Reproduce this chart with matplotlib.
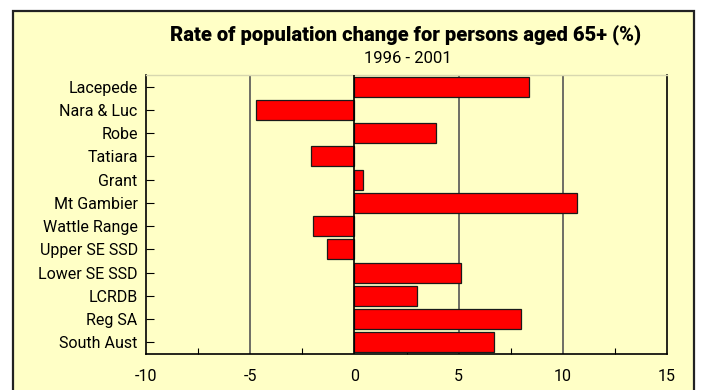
import matplotlib
matplotlib.use("Agg")
import matplotlib.pyplot as plt
from matplotlib.patches import Rectangle
from matplotlib.ticker import MultipleLocator

regions = ["Lacepede", "Nara & Luc", "Robe", "Tatiara", "Grant", "Mt Gambier",
           "Wattle Range", "Upper SE SSD", "Lower SE SSD", "LCRDB", "Reg SA",
           "South Aust"]
change = [8.4, -4.7, 3.9, -2.1, 0.4, 10.7, -2.0, -1.3, 5.1, 3.0, 8.0, 6.7]
xticks = [-10, -5, 0, 5, 10, 15]

bg = "#ffffc6"
plt.rcParams['font.family'] = ['Roboto', 'DejaVu Sans']

fig = plt.figure(figsize=(7.01, 3.90), dpi=100)
fig.patch.set_facecolor("white")

# yellow panel with a dark border; it runs off the bottom edge
frame = Rectangle((0.0185, -0.05), 0.972, 1.022, transform=fig.transFigure,
                  facecolor=bg, edgecolor="#222222", linewidth=1.6, zorder=-5)
fig.patches.append(frame)

ax = fig.add_axes([0.2083, 0.0923, 0.7432, 0.7154], zorder=2)
ax.set_facecolor(bg)

ypos = list(range(len(regions)))
ax.barh(ypos, change, height=0.85, color="#ff0000", edgecolor="#1a1a1a",
        linewidth=0.9, zorder=3)

ax.set_xlim(-10, 15)
ax.set_ylim(len(regions) - 0.5, -0.5)
ax.set_yticks(ypos)
ax.set_yticklabels(regions, fontsize=11.5)
ax.set_xticks(xticks)
ax.set_xticklabels([str(v) for v in xticks], fontsize=11.5)
ax.xaxis.set_minor_locator(MultipleLocator(2.5))
ax.tick_params(axis='x', which='major', length=0, pad=11)
ax.tick_params(axis='x', which='minor', direction='in', length=4, width=0.8)
ax.tick_params(axis='y', direction='in', length=6, width=0.8, pad=6)

for v in [-5, 5, 10]:
    ax.axvline(v, color="#555555", linewidth=1.2, zorder=1)
ax.axvline(0, color="black", linewidth=1.2, zorder=4)

for side in ["left", "bottom", "right"]:
    ax.spines[side].set_color("black")
    ax.spines[side].set_linewidth(1.2)
ax.spines["top"].set_color("#d8d8b0")
ax.spines["top"].set_linewidth(1.0)

fig.text(0.579, 0.910, "Rate of population change for persons aged 65+ (%)",
         ha="center", va="center", fontsize=14.5, fontweight="black")
fig.text(0.582, 0.851, "1996 - 2001", ha="center", va="center", fontsize=12)

fig.savefig("out.png", dpi=100, facecolor=fig.get_facecolor())
